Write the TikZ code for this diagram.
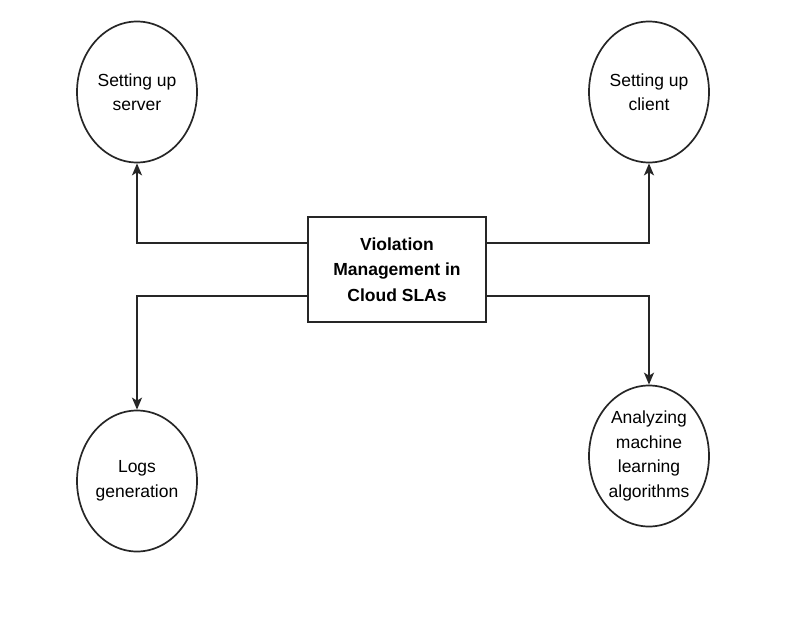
\documentclass[tikz,border=0pt]{standalone}
\usepackage{fontspec}
\setmainfont{Liberation Sans}
\usetikzlibrary{shapes.geometric,arrows.meta,calc}
\begin{document}
\begin{tikzpicture}[x=1pt,y=-1pt,
  ell/.style={draw=black!85, line width=1.7pt, ellipse, minimum width=120pt, minimum height=141pt, inner sep=0pt,
    align=center, font=\fontsize{17.5}{24.5}\selectfont},
  mainbox/.style={draw=black!85, line width=1.7pt, rectangle, minimum width=178pt, minimum height=105pt, inner sep=0pt,
    align=center, font=\fontsize{17.5}{25.5}\selectfont\bfseries},
  arr/.style={draw=black!85, line width=1.7pt, -{Stealth[length=12pt,width=10pt,inset=3pt]}}]
\useasboundingbox (0,0) rectangle (800,629);
\node[mainbox] (box) at (397,269.5) {Violation\\Management in\\Cloud SLAs};
\node[ell] (srv) at (137,92) {Setting up\\server};
\node[ell] (cli) at (649,92) {Setting up\\client};
\node[ell] (logs) at (137,481) {Logs\\generation};
\node[ell] (ml) at (649,456) {Analyzing\\machine\\learning\\algorithms};
\coordinate (lt) at ($(box.north west)!0.25!(box.south west)$);
\coordinate (lb) at ($(box.north west)!0.75!(box.south west)$);
\coordinate (rt) at ($(box.north east)!0.25!(box.south east)$);
\coordinate (rb) at ($(box.north east)!0.75!(box.south east)$);
\draw[arr] (lt) -| (srv.south);
\draw[arr] (lb) -| (logs.north);
\draw[arr] (rt) -| (cli.south);
\draw[arr] (rb) -| (ml.north);
\end{tikzpicture}
\end{document}
